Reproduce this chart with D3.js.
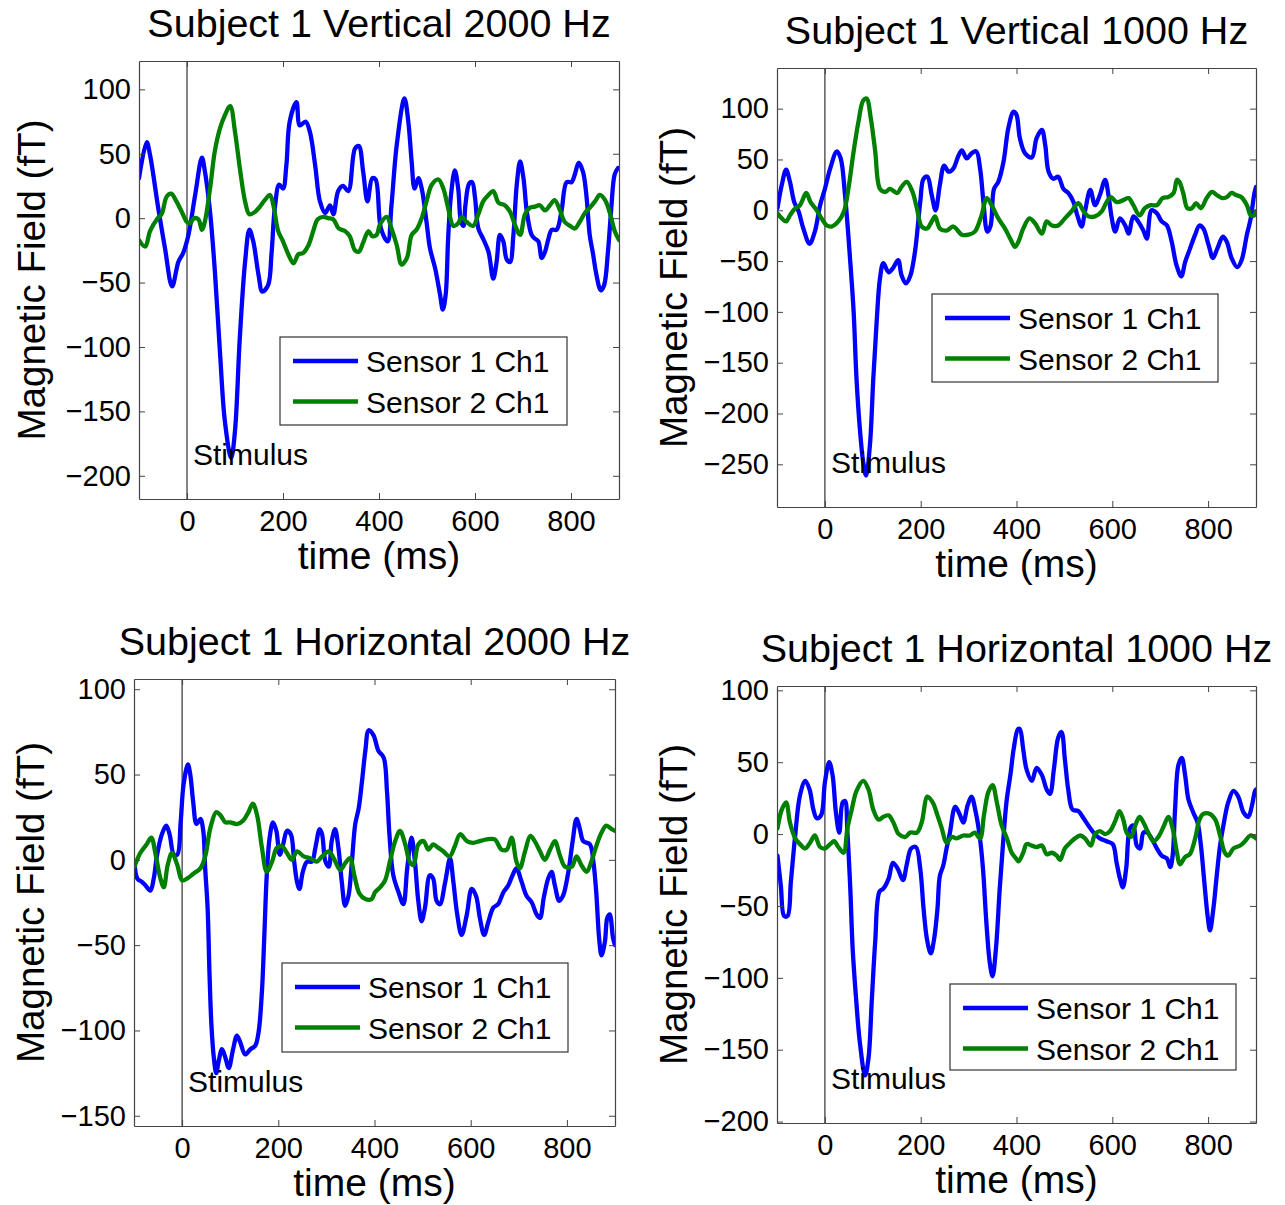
<!DOCTYPE html>
<html>
<head>
<meta charset="utf-8">
<script src="https://cdn.jsdelivr.net/npm/d3@7"></script>
<style>
  html, body { margin: 0; padding: 0; background: #ffffff; }
  svg { display: block; font-family: "Liberation Sans", Arial, Helvetica, sans-serif; }
</style>
</head>
<body>
<svg id="chart" width="1285" height="1205"></svg>
<script>
// ---------------- DATA ----------------
const timeDomain = [-100, 900];
const timeTicks = [0, 200, 400, 600, 800];
const titles = [
  "Subject 1 Vertical 2000 Hz",
  "Subject 1 Vertical 1000 Hz",
  "Subject 1 Horizontal 2000 Hz",
  "Subject 1 Horizontal 1000 Hz"
];
const legendLabels = ["Sensor 1 Ch1", "Sensor 2 Ch1"];
const xLabel = "time (ms)";
const yLabel = "Magnetic Field (fT)";
const stimulusLabel = "Stimulus";

const yTicksV2000 = [-200, -150, -100, -50, 0, 50, 100];
const yTicksV1000 = [-250, -200, -150, -100, -50, 0, 50, 100];
const yTicksH2000 = [-150, -100, -50, 0, 50, 100];
const yTicksH1000 = [-200, -150, -100, -50, 0, 50, 100];

const yDomainV2000 = [-218, 122];
const yDomainV1000 = [-292, 140];
const yDomainH2000 = [-156, 106];
const yDomainH1000 = [-201, 103];

// [time ms, field fT]
const vert2000S1 = [[-100,31],[-84,59],[-77,49],[-60,8],[-46,-23],[-31,-53],[-18,-34],[-8,-27],[3,-13],[17,18],[31,47],[37,37],[48,5],[58,-41],[69,-106],[79,-158],[92,-186],[100,-165],[110,-93],[121,-34],[130,-9],[138,-18],[149,-44],[157,-57],[169,-52],[176,-28],[183,8],[192,26],[200,23],[207,41],[214,75],[228,90],[235,72],[247,75],[256,67],[267,41],[277,13],[288,4],[298,10],[305,3],[315,21],[325,25],[336,21],[350,54],[358,56],[367,36],[376,13],[386,31],[393,30],[404,-8],[418,-18],[426,10],[437,57],[453,93],[461,75],[468,44],[474,23],[482,31],[489,23],[499,-3],[506,-23],[517,-39],[527,-59],[533,-71],[539,-59],[544,-16],[550,18],[558,37],[565,23],[571,-3],[576,-6],[580,10],[588,27],[594,28],[600,16],[607,-8],[617,-16],[628,-26],[638,-47],[645,-34],[652,-13],[659,-18],[666,-32],[673,-34],[680,-13],[687,26],[694,44],[701,31],[708,5],[718,-13],[725,-16],[732,-18],[739,-31],[746,-26],[753,-16],[760,-9],[770,-9],[780,5],[791,28],[801,28],[808,34],[816,43],[825,36],[832,18],[839,-13],[846,-28],[853,-44],[862,-56],[869,-52],[877,-26],[884,8],[891,34],[898,39]];
const vert2000S2 = [[-100,-17],[-87,-22],[-77,-10],[-63,-1],[-53,3],[-42,17],[-33,19],[-22,13],[-11,5],[0,-3],[6,-4],[15,0],[24,-1],[31,-9],[37,-3],[48,23],[58,52],[69,70],[79,80],[90,87],[100,67],[110,39],[121,13],[130,3],[142,5],[152,9],[162,14],[173,18],[180,10],[190,-10],[200,-18],[211,-28],[222,-35],[232,-28],[242,-27],[253,-21],[263,-10],[272,-1],[284,1],[294,0],[305,-1],[316,-8],[329,-10],[339,-14],[350,-25],[358,-26],[367,-19],[378,-10],[386,-14],[395,-13],[402,-5],[416,1],[426,-8],[437,-21],[447,-36],[458,-31],[468,-13],[478,-9],[489,0],[499,13],[510,26],[524,30],[534,23],[544,8],[555,-6],[565,-4],[572,1],[583,-3],[596,-6],[607,3],[617,13],[628,18],[638,21],[649,12],[662,10],[673,5],[683,-5],[694,-13],[704,3],[714,8],[725,9],[735,10],[746,6],[756,10],[766,14],[777,6],[787,-3],[798,-6],[808,-8],[818,-3],[829,4],[839,8],[850,13],[860,18],[871,14],[881,4],[891,-10],[900,-17]];

const vert1000S1 = [[-99,2],[-90,25],[-81,40],[-73,28],[-64,8],[-55,-1],[-45,-18],[-32,-33],[-21,-21],[-10,5],[0,21],[11,41],[25,58],[33,51],[42,15],[53,-51],[60,-100],[66,-166],[73,-215],[80,-248],[86,-261],[94,-231],[101,-166],[108,-110],[115,-67],[122,-52],[133,-61],[142,-57],[153,-49],[160,-64],[169,-72],[178,-65],[188,-41],[199,8],[206,31],[214,33],[223,15],[231,0],[240,25],[249,44],[258,38],[268,41],[279,54],[286,59],[296,51],[306,56],[316,58],[324,41],[331,8],[339,-21],[346,-15],[353,21],[362,28],[373,48],[383,81],[394,97],[400,94],[407,71],[418,56],[432,52],[442,71],[453,79],[460,64],[467,38],[477,31],[487,33],[498,21],[508,17],[519,8],[527,-5],[536,-16],[543,-1],[554,20],[564,5],[574,15],[585,30],[592,15],[599,-8],[606,-21],[616,-8],[627,-15],[634,-23],[644,-6],[654,-11],[665,-20],[672,-28],[682,0],[693,-3],[703,-11],[714,-15],[724,-31],[734,-54],[744,-65],[752,-51],[762,-38],[773,-24],[782,-15],[790,-18],[801,-34],[810,-47],[819,-38],[831,-26],[839,-31],[849,-47],[861,-56],[870,-49],[881,-24],[889,-8],[896,15],[900,23]];
const vert1000S2 = [[-99,-3],[-90,-8],[-81,-11],[-73,-5],[-62,2],[-52,5],[-39,17],[-30,8],[-17,0],[-7,-8],[4,-15],[14,-16],[28,-11],[40,-1],[49,21],[60,58],[70,87],[80,108],[87,110],[96,90],[105,58],[115,21],[126,18],[136,21],[151,17],[160,23],[171,28],[183,18],[192,2],[202,-16],[213,-18],[223,-11],[230,-6],[240,-18],[254,-20],[268,-16],[286,-24],[300,-24],[313,-21],[327,-5],[338,12],[348,5],[362,-8],[376,-18],[387,-28],[397,-36],[404,-31],[414,-18],[427,-8],[439,-13],[453,-23],[463,-11],[474,-15],[487,-15],[501,-8],[515,-1],[529,7],[540,-1],[550,-6],[564,-6],[578,-1],[588,8],[597,13],[609,8],[623,10],[634,12],[644,5],[657,-5],[668,2],[680,5],[693,5],[705,12],[717,13],[728,17],[735,30],[740,28],[748,17],[757,2],[766,2],[775,7],[785,2],[797,12],[808,18],[818,15],[829,12],[839,13],[849,17],[858,15],[869,13],[881,5],[889,-5],[896,-5],[900,-1]];

const hor2000S1 = [[-99,-1],[-93,-11],[-83,-13],[-76,-15],[-66,-18],[-59,-11],[-52,3],[-42,15],[-33,20],[-26,15],[-17,3],[-10,3],[-3,22],[3,44],[12,56],[17,50],[23,34],[30,21],[38,24],[44,17],[48,-5],[53,-28],[57,-67],[61,-97],[66,-116],[71,-125],[76,-118],[83,-111],[90,-116],[97,-122],[106,-111],[114,-103],[121,-107],[131,-114],[142,-111],[152,-109],[159,-101],[166,-77],[171,-44],[176,-9],[182,13],[189,22],[196,17],[203,3],[210,9],[218,17],[226,15],[233,-1],[239,-13],[244,-17],[251,-7],[260,-1],[270,-1],[277,7],[286,18],[291,15],[298,-1],[305,-4],[311,11],[318,18],[325,7],[332,-13],[339,-27],[346,-21],[353,-1],[360,21],[367,30],[374,46],[381,64],[388,76],[398,73],[408,64],[419,60],[426,40],[431,15],[439,-9],[450,-19],[460,-26],[468,-5],[477,13],[484,-1],[491,-24],[498,-36],[505,-28],[515,-9],[522,-11],[529,-24],[536,-26],[547,-13],[557,1],[564,-13],[572,-32],[581,-44],[592,-32],[602,-17],[611,-21],[619,-34],[628,-44],[637,-36],[647,-28],[657,-26],[668,-19],[678,-15],[687,-9],[695,-5],[706,-13],[716,-21],[727,-25],[737,-32],[744,-34],[752,-22],[761,-11],[768,-7],[775,-15],[784,-24],[792,-21],[803,-7],[812,11],[820,24],[827,18],[834,11],[848,9],[855,-1],[861,-19],[867,-46],[872,-56],[879,-48],[884,-34],[889,-32],[896,-46],[900,-50]];
const hor2000S2 = [[-99,-4],[-87,4],[-74,9],[-64,13],[-55,3],[-45,-11],[-38,-16],[-30,-3],[-21,4],[-10,-3],[0,-12],[10,-11],[24,-8],[38,-5],[48,2],[59,19],[71,28],[80,26],[90,22],[100,22],[114,21],[127,23],[138,28],[147,33],[156,26],[166,7],[176,-7],[187,-1],[197,7],[208,8],[218,4],[228,0],[239,5],[253,2],[266,1],[280,-1],[291,2],[305,5],[315,1],[329,-6],[339,-2],[349,1],[358,-9],[369,-20],[381,-23],[394,-23],[401,-19],[412,-16],[422,-12],[432,-1],[443,11],[453,17],[464,9],[473,-1],[481,-3],[491,9],[502,11],[512,6],[522,9],[533,7],[543,5],[556,2],[567,8],[578,15],[592,11],[605,10],[619,11],[633,12],[650,12],[664,6],[675,6],[685,13],[695,-1],[702,-5],[713,5],[724,14],[733,11],[744,5],[754,0],[765,6],[775,11],[785,3],[796,-4],[810,-4],[820,2],[830,-3],[841,-7],[851,-1],[861,8],[872,16],[882,20],[893,18],[900,17]];

const hor1000S1 = [[-99,-15],[-92,-36],[-85,-57],[-78,-57],[-71,-33],[-62,-1],[-52,27],[-41,37],[-32,31],[-24,17],[-17,11],[-8,13],[0,36],[9,50],[16,41],[23,15],[30,1],[37,22],[42,23],[47,1],[53,-38],[58,-80],[65,-114],[73,-145],[84,-168],[91,-156],[98,-115],[105,-75],[114,-40],[122,-38],[133,-31],[142,-20],[152,-24],[163,-32],[171,-21],[180,-10],[190,-9],[199,-24],[206,-52],[213,-73],[221,-83],[228,-73],[235,-52],[240,-29],[247,-22],[254,-10],[261,1],[272,19],[281,14],[289,8],[298,20],[306,26],[315,15],[323,-1],[330,-24],[337,-61],[344,-89],[350,-99],[357,-80],[365,-38],[372,-6],[379,22],[388,43],[394,59],[403,73],[407,73],[414,59],[421,45],[432,37],[442,46],[453,41],[463,31],[470,28],[478,45],[487,67],[494,71],[501,52],[508,31],[517,17],[529,16],[540,11],[550,6],[561,1],[574,-3],[588,-5],[601,-7],[609,-20],[616,-31],[622,-37],[629,-24],[637,4],[644,6],[651,-8],[658,-10],[665,1],[673,1],[682,-3],[693,-10],[703,-15],[714,-17],[721,-23],[726,-15],[731,17],[738,48],[745,53],[752,41],[759,24],[769,15],[778,8],[785,-8],[792,-33],[799,-57],[804,-67],[811,-52],[818,-29],[825,-8],[833,8],[842,22],[853,30],[863,26],[874,15],[884,12],[891,19],[898,30],[900,31]];
const hor1000S2 = [[-99,4],[-90,17],[-81,22],[-73,8],[-62,-3],[-52,-7],[-41,-10],[-31,-6],[-21,-1],[-10,-9],[0,-10],[11,-7],[19,-5],[28,-9],[39,-13],[47,4],[56,17],[66,30],[80,37],[91,31],[101,17],[112,10],[122,12],[133,13],[143,8],[154,0],[168,-2],[178,1],[192,1],[202,8],[214,26],[225,22],[235,13],[244,4],[254,-6],[265,-2],[275,-3],[289,-1],[303,-1],[313,1],[324,-3],[332,13],[341,29],[350,34],[359,22],[369,6],[380,-3],[390,-13],[399,-17],[404,-19],[414,-13],[421,-7],[432,-8],[442,-9],[453,-8],[463,-14],[474,-13],[484,-15],[491,-18],[501,-10],[512,-6],[522,-3],[533,-1],[543,-3],[555,-8],[564,0],[574,2],[585,0],[595,2],[606,9],[615,16],[623,10],[630,1],[639,-2],[648,6],[657,12],[665,8],[675,1],[686,-5],[698,-1],[708,6],[717,12],[726,4],[735,-13],[741,-21],[752,-16],[762,-14],[773,-3],[782,10],[790,14],[804,14],[815,10],[825,-1],[835,-13],[842,-15],[853,-10],[867,-8],[877,-5],[888,-1],[896,-2],[900,-3]];

// ---------------- LAYOUT ----------------
const colors = ["#0000ff", "#008000"];
const layout = [
  { x: 139, y: 61,  w: 480, h: 438, leg: [280, 337, 287, 88], ylabX: 45 },
  { x: 777, y: 68,  w: 479, h: 439, leg: [932, 294, 286, 88], ylabX: 687 },
  { x: 134, y: 679, w: 481, h: 447, leg: [282, 963, 286, 89], ylabX: 44 },
  { x: 777, y: 686, w: 479, h: 437, leg: [950, 984, 286, 86], ylabX: 687 }
];
const panelData = [
  { s: [vert2000S1, vert2000S2], yDomain: yDomainV2000, yTicks: yTicksV2000 },
  { s: [vert1000S1, vert1000S2], yDomain: yDomainV1000, yTicks: yTicksV1000 },
  { s: [hor2000S1, hor2000S2],   yDomain: yDomainH2000, yTicks: yTicksH2000 },
  { s: [hor1000S1, hor1000S2],   yDomain: yDomainH1000, yTicks: yTicksH1000 }
];

const svg = d3.select("#chart");
svg.append("rect").attr("width", 1285).attr("height", 1205).attr("fill", "#fff");

const axisColor = "#444";

panelData.forEach((pd, i) => {
  const L = layout[i];
  const g = svg.append("g").attr("transform", `translate(${L.x},${L.y})`);
  const x = d3.scaleLinear().domain(timeDomain).range([0, L.w]);
  const y = d3.scaleLinear().domain(pd.yDomain).range([L.h, 0]);

  const clipId = "clip" + i;
  g.append("clipPath").attr("id", clipId).append("rect")
    .attr("width", L.w).attr("height", L.h);

  // stimulus line
  g.append("line")
    .attr("x1", x(0)).attr("x2", x(0)).attr("y1", 0).attr("y2", L.h)
    .attr("stroke", "#333").attr("stroke-width", 1.2);

  // curves
  const line = d3.line().x(d => x(d[0])).y(d => y(d[1])).curve(d3.curveCatmullRom.alpha(0.5));
  const lg = g.append("g").attr("clip-path", `url(#${clipId})`);
  pd.s.forEach((series, k) => {
    lg.append("path").datum(series)
      .attr("d", line)
      .attr("fill", "none")
      .attr("stroke", colors[k])
      .attr("stroke-width", 4.3)
      .attr("stroke-linejoin", "round")
      .attr("stroke-linecap", "round");
  });

  // stimulus label
  g.append("text")
    .attr("x", x(0) + 6).attr("y", L.h - 34)
    .attr("font-size", 30).attr("fill", "#000")
    .text(stimulusLabel);

  // axes
  const styleAxis = sel => {
    sel.select(".domain").attr("stroke", axisColor).attr("stroke-width", 1.2);
    sel.selectAll(".tick line").attr("stroke", axisColor).attr("stroke-width", 1);
    sel.selectAll(".tick text").attr("fill", "#000").attr("font-size", 29)
      .attr("font-family", '"Liberation Sans", Arial, Helvetica, sans-serif');
  };
  g.append("g").attr("transform", `translate(0,${L.h})`)
    .call(d3.axisBottom(x).tickValues(timeTicks).tickSizeInner(-6).tickSizeOuter(0).tickPadding(11))
    .call(styleAxis);
  g.append("g")
    .call(d3.axisTop(x).tickValues(timeTicks).tickSizeInner(-6).tickSizeOuter(0).tickFormat(""))
    .call(styleAxis);
  g.append("g")
    .call(d3.axisLeft(y).tickValues(pd.yTicks).tickSizeInner(-6).tickSizeOuter(0).tickPadding(8))
    .call(styleAxis);
  g.append("g").attr("transform", `translate(${L.w},0)`)
    .call(d3.axisRight(y).tickValues(pd.yTicks).tickSizeInner(-6).tickSizeOuter(0).tickFormat(""))
    .call(styleAxis);

  // title
  g.append("text")
    .attr("x", L.w / 2).attr("y", -24)
    .attr("text-anchor", "middle").attr("font-size", 39.5).attr("fill", "#000")
    .text(titles[i]);

  // x label
  g.append("text")
    .attr("x", L.w / 2).attr("y", L.h + 70)
    .attr("text-anchor", "middle").attr("font-size", 39).attr("fill", "#000")
    .text(xLabel);

  // y label
  svg.append("text")
    .attr("transform", `translate(${L.ylabX},${L.y + L.h / 2}) rotate(-90)`)
    .attr("text-anchor", "middle").attr("font-size", 38.5).attr("fill", "#000")
    .text(yLabel);

  // legend
  const [lx, ly, lw, lh] = L.leg;
  const leg = svg.append("g").attr("transform", `translate(${lx},${ly})`);
  leg.append("rect").attr("width", lw).attr("height", lh)
    .attr("fill", "#fff").attr("stroke", "#333").attr("stroke-width", 1.2);
  legendLabels.forEach((lab, k) => {
    const cy = 24 + k * 40.5;
    leg.append("line").attr("x1", 13).attr("x2", 78).attr("y1", cy).attr("y2", cy)
      .attr("stroke", colors[k]).attr("stroke-width", 4.3);
    leg.append("text").attr("x", 86).attr("y", cy + 11)
      .attr("font-size", 30).attr("fill", "#000").text(lab);
  });
});
</script>
</body>
</html>
